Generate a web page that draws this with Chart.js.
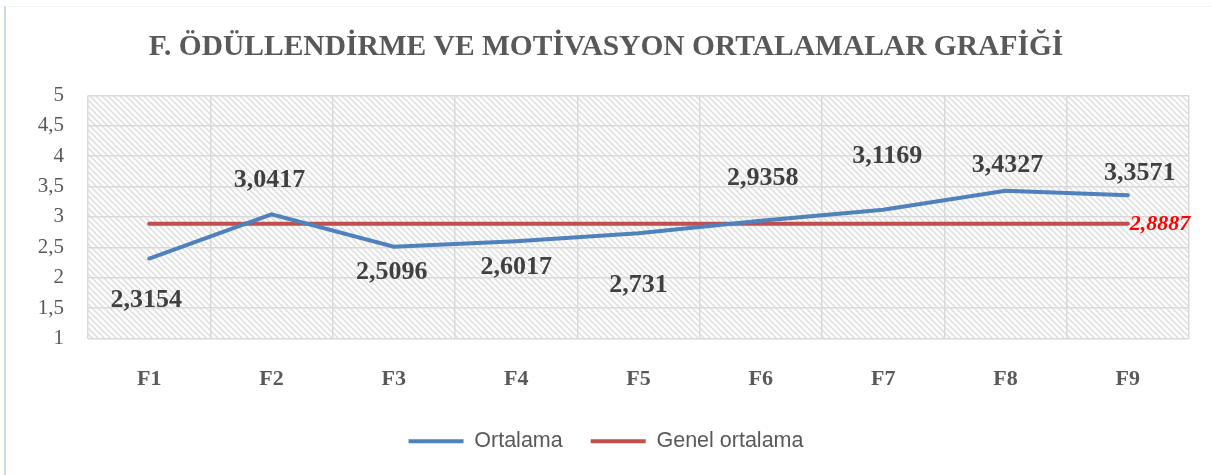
<!DOCTYPE html>
<html>
<head>
<meta charset="utf-8">
<script src="https://cdn.jsdelivr.net/npm/chart.js@4.4.1/dist/chart.umd.min.js"></script>
<style>
  html, body { margin: 0; padding: 0; background: #fff; }
  #wrap { position: relative; width: 1212px; height: 475px; }
  #frame { position: absolute; left: 4px; top: 6px; right: 0; bottom: 0;
           border-left: 2px solid #c9d8ec; border-top: 1px solid #f1f5fb; }
  canvas { position: absolute; left: 0; top: 0; }
</style>
</head>
<body>
<div id="wrap">
  <div id="frame"></div>
  <canvas id="myChart" width="1212" height="475"></canvas>
</div>
<script>
  // chart data
  var categories = ["F1", "F2", "F3", "F4", "F5", "F6", "F7", "F8", "F9"];
  var ortalama = [2.3154, 3.0417, 2.5096, 2.6017, 2.731, 2.9358, 3.1169, 3.4327, 3.3571];
  var genelOrtalama = [2.8887, 2.8887, 2.8887, 2.8887, 2.8887, 2.8887, 2.8887, 2.8887, 2.8887];
  var yTicks = [1, 1.5, 2, 2.5, 3, 3.5, 4, 4.5, 5];

  // where each value label sits relative to its point (px)
  var labelDy = [42, -34, 26, 26, 52, -43, -54, -25, -22];
  var labelDx = [-3, -2, -2, 0, 0, 2, 4, 2, 12];

  function fmt(v) {
    return String(v).replace(".", ",");
  }

  // diagonal hatch used for the plot background
  var tile = document.createElement("canvas");
  tile.width = 6;
  tile.height = 6;
  var tctx = tile.getContext("2d");
  tctx.fillStyle = "#fff";
  tctx.fillRect(0, 0, 6, 6);
  tctx.strokeStyle = "#e0e0e0";
  tctx.lineWidth = 1.6;
  tctx.beginPath();
  tctx.moveTo(-1, -1); tctx.lineTo(7, 7);
  tctx.moveTo(-4, 2); tctx.lineTo(4, 10);
  tctx.moveTo(2, -4); tctx.lineTo(10, 4);
  tctx.stroke();

  var hatchPlugin = {
    id: "hatch",
    beforeDraw: function (chart) {
      var a = chart.chartArea;
      var ctx = chart.ctx;
      ctx.save();
      ctx.fillStyle = ctx.createPattern(tile, "repeat");
      ctx.fillRect(a.left, a.top, a.right - a.left, a.bottom - a.top);
      ctx.restore();
    }
  };

  var labelPlugin = {
    id: "valueLabels",
    afterDatasetsDraw: function (chart) {
      var ctx = chart.ctx;
      ctx.save();
      ctx.textAlign = "center";
      ctx.textBaseline = "middle";
      ctx.font = "bold 26px 'Liberation Serif', 'Times New Roman', serif";
      ctx.fillStyle = "#404040";
      chart.getDatasetMeta(0).data.forEach(function (pt, i) {
        ctx.fillText(fmt(ortalama[i]), pt.x + labelDx[i], pt.y + labelDy[i]);
      });
      var meta1 = chart.getDatasetMeta(1).data;
      var last = meta1[meta1.length - 1];
      ctx.textAlign = "left";
      ctx.font = "italic bold 22px 'Liberation Serif', 'Times New Roman', serif";
      ctx.fillStyle = "#ff0000";
      ctx.fillText(fmt(genelOrtalama[genelOrtalama.length - 1]), last.x + 2, last.y + 1);
      ctx.restore();
    }
  };

  new Chart("myChart", {
    type: "line",
    data: {
      labels: categories,
      datasets: [{
        label: "Ortalama",
        data: ortalama,
        borderColor: "#4f81bd",
        backgroundColor: "#4f81bd",
        borderWidth: 4,
        borderCapStyle: "round",
        pointRadius: 0,
        tension: 0
      }, {
        label: "Genel ortalama",
        data: genelOrtalama,
        borderColor: "#c0504d",
        backgroundColor: "#c0504d",
        borderWidth: 4,
        borderCapStyle: "round",
        pointRadius: 0,
        tension: 0
      }]
    },
    plugins: [hatchPlugin, labelPlugin],
    options: {
      responsive: false,
      animation: false,
      layout: { padding: { left: 23, right: 23, top: 0, bottom: 13 } },
      plugins: {
        title: {
          display: true,
          text: "F. ÖDÜLLENDİRME VE MOTİVASYON ORTALAMALAR GRAFİĞİ",
          color: "#595959",
          font: { family: "'Liberation Serif', 'Times New Roman', serif", size: 29.5, weight: "bold" },
          padding: { top: 30, bottom: 30 }
        },
        legend: {
          position: "bottom",
          labels: {
            usePointStyle: true,
            pointStyle: "line",
            pointStyleWidth: 55,
            color: "#595959",
            padding: 28,
            font: { family: "'Liberation Sans', Arial, sans-serif", size: 21.5 }
          }
        },
        tooltip: { enabled: false }
      },
      scales: {
        x: {
          offset: true,
          grid: { offset: true, color: "#d9d9d9", lineWidth: 1.5, drawTicks: false },
          border: { display: false },
          ticks: {
            color: "#595959",
            padding: 28,
            font: { family: "'Liberation Serif', 'Times New Roman', serif", size: 22, weight: "bold" }
          },
          afterFit: function (s) { s.height = 64; }
        },
        y: {
          min: 1,
          max: 5,
          afterBuildTicks: function (s) {
            s.ticks = yTicks.map(function (v) { return { value: v }; });
          },
          grid: { color: "#d9d9d9", lineWidth: 1.5, drawTicks: false },
          border: { display: false },
          ticks: {
            color: "#595959",
            padding: 24,
            font: { family: "'Liberation Serif', 'Times New Roman', serif", size: 21 },
            callback: function (v) { return fmt(v); }
          },
          afterFit: function (s) { s.width = 65; }
        }
      }
    }
  });
</script>
</body>
</html>
